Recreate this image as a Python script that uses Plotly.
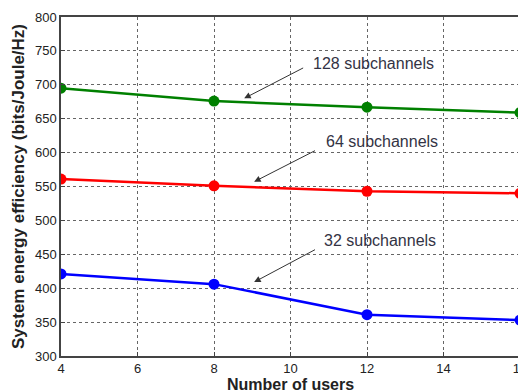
import plotly.graph_objects as go

users = [4, 8, 12, 16]
sub128 = [695, 676, 667, 659]
sub64 = [561, 551, 543, 540]
sub32 = [421, 406, 361, 353]

series = [
    ("128 subchannels", sub128, "#008000"),
    ("64 subchannels", sub64, "#ff0000"),
    ("32 subchannels", sub32, "#0000ff"),
]

fig = go.Figure()
for name, vals, col in series:
    fig.add_trace(go.Scatter(x=users, y=vals, mode="lines+markers", name=name,
                             line=dict(color=col, width=2.5),
                             marker=dict(color=col, size=11)))

# label text, text position (x, y), arrow tail (x, y), arrow tip (x, y)
label_text = ["128 subchannels", "64 subchannels", "32 subchannels"]
label_pos = [(12.18, 732), (12.39, 616), (12.34, 471)]
arrow_tail = [(10.37, 726), (10.68, 604), (10.68, 458)]
arrow_tip = [(8.79, 680), (9.05, 557), (9.05, 409)]

FONT = "Liberation Sans, Arial, sans-serif"
for txt, (lx, ly), (sx, sy), (tx, ty) in zip(label_text, label_pos, arrow_tail, arrow_tip):
    fig.add_annotation(x=tx, y=ty, xref="x", yref="y", ax=sx, ay=sy,
                       axref="x", ayref="y", text="", showarrow=True,
                       arrowhead=2, arrowsize=1.3, arrowwidth=1,
                       arrowcolor="#333333")
    fig.add_annotation(x=lx, y=ly, xref="x", yref="y", text=txt, showarrow=False,
                       font=dict(size=16, color="#333344", family=FONT),
                       xanchor="center", yanchor="middle")

# x-axis title placed as an annotation so it sits low like in the reference
fig.add_annotation(x=0.5, y=-0.083, xref="paper", yref="paper",
                   text="<b>Number of users</b>", showarrow=False,
                   font=dict(size=16, color="#222222", family=FONT),
                   xanchor="center", yanchor="middle")

# page body has an 8px default margin; compensate so plot lands where the reference has it
fig.update_layout(
    width=518, height=384,
    margin=dict(l=53, r=6, t=9, b=36),
    paper_bgcolor="white", plot_bgcolor="white",
    showlegend=False,
    font=dict(family=FONT, size=13, color="#222222"),
)
fig.update_xaxes(range=[4, 16], dtick=2, tick0=4, automargin=False,
                 ticklabeloverflow="allow",
                 showgrid=True, gridcolor="#666666", griddash="dot", gridwidth=1,
                 showline=True, linecolor="#444444", linewidth=1.5, mirror=True,
                 ticks="inside", ticklen=4, tickcolor="#444444",
                 tickfont=dict(size=13),
                 zeroline=False)
fig.update_yaxes(range=[300, 800], dtick=50, automargin=False,
                 ticklabeloverflow="allow",
                 showgrid=True, gridcolor="#666666", griddash="dot", gridwidth=1,
                 showline=True, linecolor="#444444", linewidth=1.5, mirror=True,
                 ticks="inside", ticklen=4, tickcolor="#444444",
                 tickfont=dict(size=13),
                 title=dict(text="<b>System energy efficiency (bits/Joule/Hz)</b>",
                            standoff=6, font=dict(size=17)),
                 zeroline=False)

fig.write_html("out.html")
